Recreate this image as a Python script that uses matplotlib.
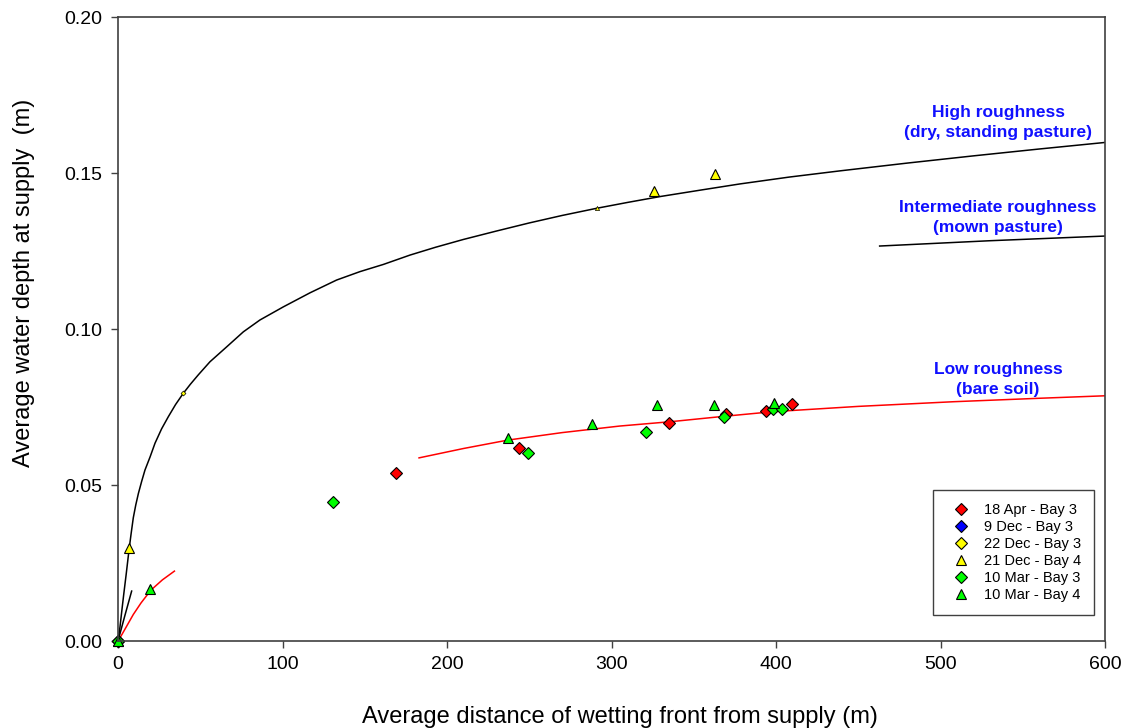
import matplotlib
matplotlib.use("Agg")
import matplotlib.pyplot as plt

plt.rcParams['font.family'] = ['Liberation Sans', 'DejaVu Sans']

# ---- fitted curves ----
high_x = [0, 1.2, 2.5, 3.5, 5, 6.7, 8, 9.3, 10.8, 12.4, 14.4, 16.4, 19.5,
          22.5, 26.5, 30.6, 35, 39.7, 44, 48.8, 55.9, 66.1, 76.2, 86.3,
          100.5, 116.7, 132.9, 147.1, 161.3, 177.5, 193, 209.9, 230, 250,
          270, 291, 310, 330, 355, 378, 408, 439, 480, 520, 560, 600]
high_y = [0, 0.0045, 0.0105, 0.0150, 0.0215, 0.0292, 0.0345, 0.0395,
          0.0436, 0.0473, 0.0512, 0.0548, 0.0590, 0.0634, 0.0680, 0.0719,
          0.0758, 0.0794, 0.0823, 0.0853, 0.0895, 0.0943, 0.0991, 0.1029,
          0.1071, 0.1116, 0.1157, 0.1184, 0.1207, 0.1237, 0.1262, 0.1287,
          0.1314, 0.1340, 0.1364, 0.1387, 0.1406, 0.1425, 0.1446, 0.1465,
          0.1487, 0.1507, 0.1532, 0.1555, 0.1577, 0.1598]

inter_x0 = [0, 4, 8.3]
inter_y0 = [0, 0.0078, 0.0160]
inter_x1 = [463, 530, 600]
inter_y1 = [0.1266, 0.1283, 0.1298]

low_x0 = [0, 1.2, 5, 9.3, 14, 20, 27, 34.3]
low_y0 = [0, 0.0010, 0.0045, 0.0085, 0.0122, 0.0163, 0.0196, 0.0224]
low_x1 = [183, 210, 237, 270, 305, 336, 368, 398, 450, 508, 560, 600]
low_y1 = [0.0587, 0.0617, 0.0644, 0.0668, 0.0689, 0.0703, 0.0720, 0.0735,
          0.0752, 0.0767, 0.0778, 0.0786]

# ---- measured points ----
apr18_b3_x = [0, 169, 243.8, 335.1, 369.6, 393.9, 409.9]
apr18_b3_y = [0, 0.0538, 0.0618, 0.0698, 0.0728, 0.0738, 0.0759]
dec9_b3_x = []
dec9_b3_y = []
dec22_b3_x = [0]
dec22_b3_y = [0]
dec22_b3_small_x = [39.7]
dec22_b3_small_y = [0.0794]
dec21_b4_x = [0, 6.9, 326, 362.7]
dec21_b4_y = [0, 0.0297, 0.1442, 0.1498]
dec21_b4_small_x = [291]
dec21_b4_small_y = [0.1387]
mar10_b3_x = [0, 130.5, 249.5, 320.8, 368.4, 398.4, 403.8]
mar10_b3_y = [0, 0.0447, 0.0602, 0.0669, 0.0717, 0.0743, 0.0744]
mar10_b4_x = [0, 19.5, 237.3, 288, 327.5, 362.5, 398.8]
mar10_b4_y = [0, 0.0167, 0.0652, 0.0694, 0.0756, 0.0756, 0.0762]

x_ticks = [0, 100, 200, 300, 400, 500, 600]
y_ticks = [0.00, 0.05, 0.10, 0.15, 0.20]

fig = plt.figure(figsize=(11.27, 7.28), dpi=100)
ax = fig.add_axes([0.1047, 0.1195, 0.8758, 0.8571])

ax.plot(high_x, high_y, color='black', lw=1.1)
ax.plot(inter_x0, inter_y0, color='black', lw=1.1)
ax.plot(inter_x1, inter_y1, color='black', lw=1.1)
ax.plot(low_x0, low_y0, color='red', lw=1.1)
ax.plot(low_x1, low_y1, color='red', lw=1.1)

dia = dict(marker='D', ms=6, mec='black', mew=0.8, ls='none', clip_on=False)
tri = dict(marker='^', ms=7, mec='black', mew=0.8, ls='none', clip_on=False)
ax.plot(apr18_b3_x, apr18_b3_y, mfc='#ff0000', label='18 Apr - Bay 3', **dia)
ax.plot(dec9_b3_x, dec9_b3_y, mfc='#0000ff', label='9 Dec - Bay 3', **dia)
ax.plot(dec22_b3_x, dec22_b3_y, mfc='#ffff00', label='22 Dec - Bay 3', **dia)
ax.plot(dec22_b3_small_x, dec22_b3_small_y, marker='D', ms=2.5, mfc='#ffff00',
        mec='black', mew=0.5, ls='none')
ax.plot(dec21_b4_x, dec21_b4_y, mfc='#ffff00', label='21 Dec - Bay 4', **tri)
ax.plot(dec21_b4_small_x, dec21_b4_small_y, marker='^', ms=3, mfc='#ffff00',
        mec='black', mew=0.5, ls='none')
ax.plot(mar10_b3_x, mar10_b3_y, mfc='#00ff00', label='10 Mar - Bay 3', **dia)
ax.plot(mar10_b4_x, mar10_b4_y, mfc='#00ff00', label='10 Mar - Bay 4', **tri)

ax.set_xlim(0, 600)
ax.set_ylim(0, 0.20)
ax.set_xticks(x_ticks)
ax.set_yticks(y_ticks)
ax.set_yticklabels(['%.2f' % v for v in y_ticks])
ax.tick_params(direction='out', length=5, width=1, color='#404040',
               labelsize=14, pad=6)
for s in ax.spines.values():
    s.set_color('#404040')
    s.set_linewidth(1.2)

ax.set_xlabel('Average distance of wetting front from supply (m)', fontsize=17)
ax.xaxis.set_label_coords(0.509, -0.1034)
ax.set_ylabel('Average water depth at supply  (m)', fontsize=17)
ax.yaxis.set_label_coords(-0.084, 0.574)

# 注記
txt = dict(color='#1010ff', fontsize=12.5, fontweight='bold', ha='center',
           va='center', linespacing=1.42)
ax.text(535, 0.1662, 'High roughness\n(dry, standing pasture)', **txt)
ax.text(535, 0.1358, 'Intermediate roughness\n(mown pasture)', **txt)
ax.text(535, 0.0838, 'Low roughness\n(bare soil)', **txt)

leg = ax.legend(loc='lower right', bbox_to_anchor=(0.989, 0.0417),
                borderaxespad=0, fancybox=False, edgecolor='#404040',
                fontsize=10.5, handletextpad=0.6, borderpad=0.9,
                labelspacing=0.2, handlelength=2.0, framealpha=1)
leg.get_frame().set_linewidth(1.0)

fig.savefig('out.png', dpi=100)
